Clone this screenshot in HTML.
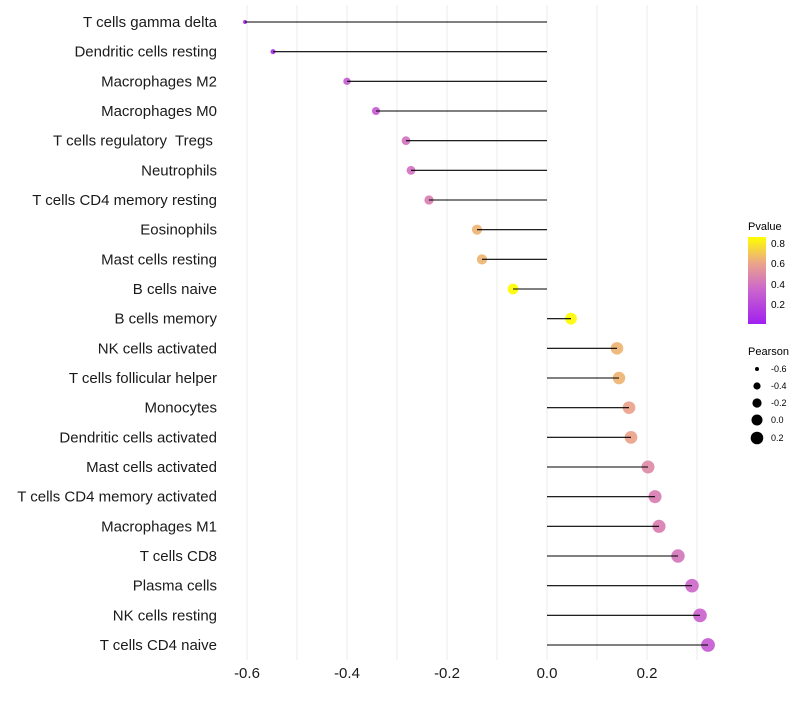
<!DOCTYPE html>
<html><head><meta charset="utf-8"><style>
body{margin:0;background:#fff;font-family:"Liberation Sans",sans-serif}
</style></head><body>
<svg id="c" width="800" height="700" xmlns="http://www.w3.org/2000/svg">
<defs><linearGradient id="pg" x1="0" y1="1" x2="0" y2="0">
<stop offset="0" stop-color="#A020F0"/><stop offset="0.4" stop-color="#CC66CC"/><stop offset="0.7" stop-color="#EBA58A"/><stop offset="1" stop-color="#FFFF00"/></linearGradient></defs>
<g id="grid"></g><g id="marks"></g><g id="labels"></g>
<g font-size="10">
<text x="748" y="230" font-size="11">Pvalue</text>
<rect x="748" y="237" width="18" height="87" fill="url(#pg)"/>
<text x="771" y="247">0.8</text><text x="771" y="267">0.6</text><text x="771" y="288">0.4</text><text x="771" y="308">0.2</text>
</g>
<g font-size="9">
<text x="748" y="355" font-size="11">Pearson</text>
<circle cx="757" cy="369" r="2"/><text x="771" y="372">-0.6</text>
<circle cx="757" cy="386" r="3.6"/><text x="771" y="389">-0.4</text>
<circle cx="757" cy="403" r="4.6"/><text x="771" y="406">-0.2</text>
<circle cx="757" cy="420" r="5.5"/><text x="771" y="423">0.0</text>
<circle cx="757" cy="438" r="6.3"/><text x="771" y="441">0.2</text>
</g>
</svg>
<script>
const categories=["T cells gamma delta","Dendritic cells resting","Macrophages M2","Macrophages M0","T cells regulatory  Tregs ","Neutrophils","T cells CD4 memory resting","Eosinophils","Mast cells resting","B cells naive","B cells memory","NK cells activated","T cells follicular helper","Monocytes","Dendritic cells activated","Mast cells activated","T cells CD4 memory activated","Macrophages M1","T cells CD8","Plasma cells","NK cells resting","T cells CD4 naive"];
const pearson=[-0.604,-0.548,-0.40,-0.342,-0.282,-0.272,-0.236,-0.14,-0.13,-0.068,0.048,0.14,0.144,0.164,0.168,0.202,0.216,0.224,0.262,0.29,0.306,0.322];
const pvalue=[0.05,0.1,0.3,0.3,0.4,0.4,0.45,0.65,0.65,0.85,0.85,0.65,0.65,0.6,0.6,0.5,0.45,0.45,0.42,0.36,0.34,0.3];
const xTicks=[-0.6,-0.4,-0.2,0.0,0.2];
const NS="http://www.w3.org/2000/svg";
const x=v=>547+v*500, y=i=>22+i*29.667;
function col(p){const t=Math.max(0,Math.min(1,(p-0.015)/0.845));
const st=[[0,[160,32,240]],[0.4,[204,102,204]],[0.7,[235,165,138]],[1,[255,255,0]]];
for(let k=1;k<st.length;k++){if(t<=st[k][0]){const a=st[k-1],b=st[k],f=(t-a[0])/(b[0]-a[0]);return 'rgb('+a[1].map((c,j)=>Math.round(c+(b[1][j]-c)*f)).join(',')+')';}}return 'rgb(255,255,0)';}
const rad=v=>Math.sqrt(4+(v+0.6)*(42-4)/0.8);
function mk(t,a){const e=document.createElementNS(NS,t);for(const k in a)e.setAttribute(k,a[k]);return e;}
const g=document.getElementById('grid'),m=document.getElementById('marks'),l=document.getElementById('labels');
for(let v=-0.6;v<=0.31;v+=0.1){const ln=mk('line',{x1:x(v),x2:x(v),y1:5,y2:660,stroke:'#ebebeb','stroke-width':1});

g.appendChild(ln);}
categories.forEach((c,i)=>{
const ci=mk('circle',{cx:x(pearson[i]),cy:y(i),r:rad(pearson[i]),fill:col(pvalue[i]),'fill-opacity':0.92});

m.appendChild(ci);
const ln=mk('line',{x1:x(0),x2:x(pearson[i]),y1:y(i),y2:y(i),stroke:'#000','stroke-width':1.1});

m.appendChild(ln);
const t=mk('text',{x:217,y:y(i)+5,'text-anchor':'end','font-size':15,fill:'#1a1a1a',style:'white-space:pre'});t.textContent=c;

l.appendChild(t);});
xTicks.forEach(v=>{const t=mk('text',{x:x(v),y:678,'text-anchor':'middle','font-size':15,fill:'#1a1a1a'});t.textContent=v.toFixed(1);

l.appendChild(t);});
</script>
</body></html>
